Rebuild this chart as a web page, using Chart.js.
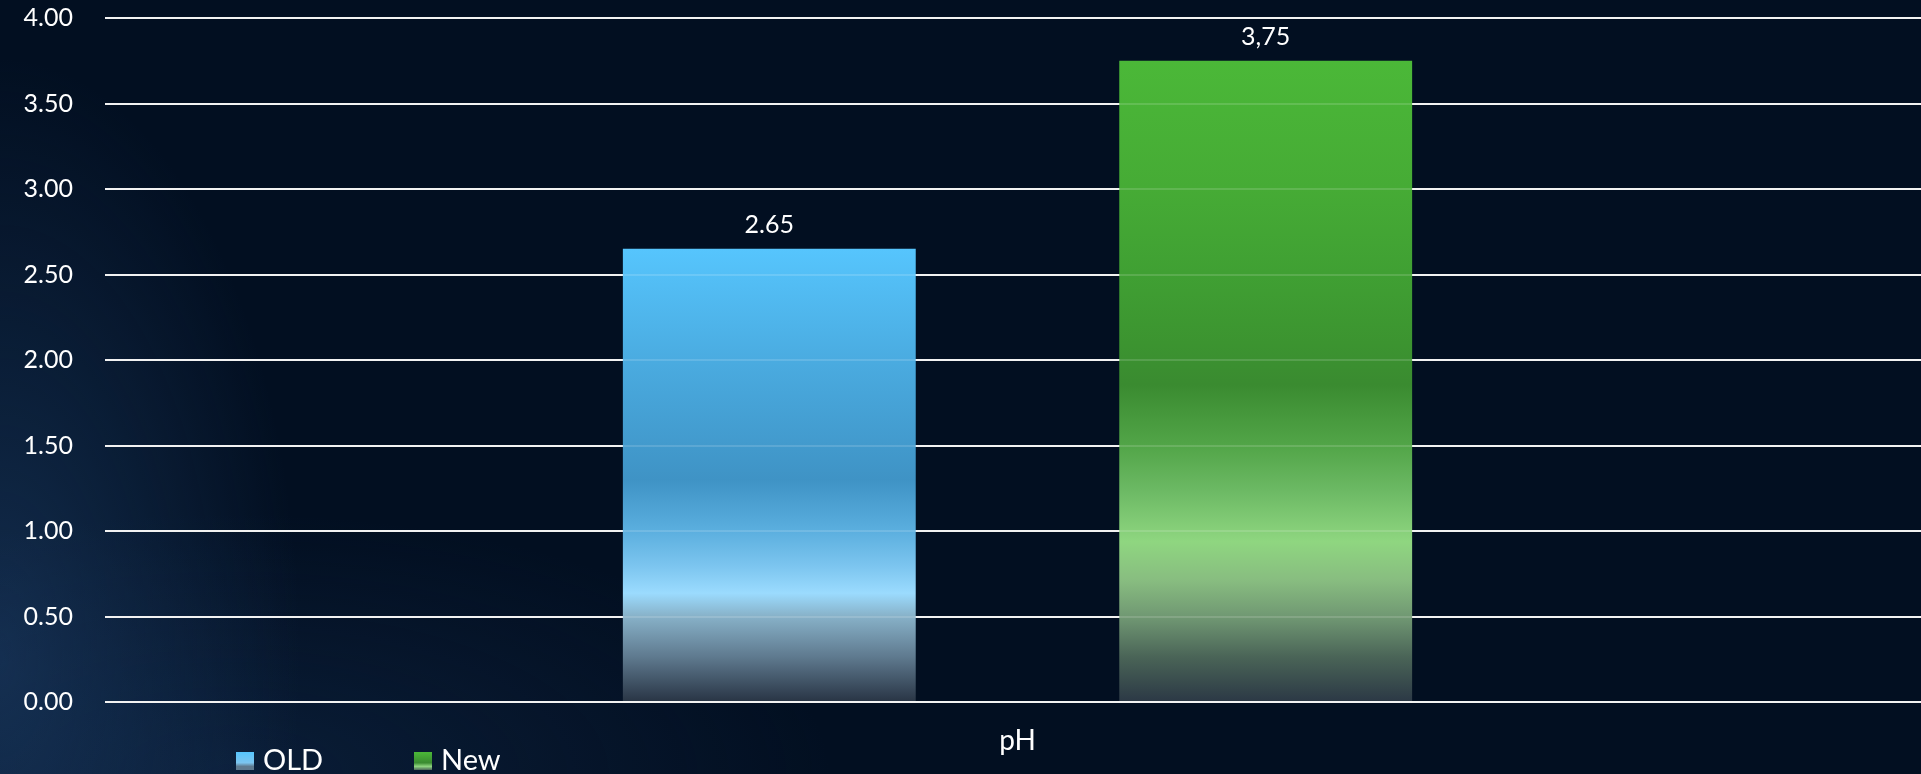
<!DOCTYPE html>
<html>
<head>
<meta charset="utf-8">
<title>pH</title>
<script src="https://cdn.jsdelivr.net/npm/chart.js@4.4.1/dist/chart.umd.min.js"></script>
<style>
  html, body {
    margin: 0;
    padding: 0;
    width: 1921px;
    height: 774px;
    overflow: hidden;
  }
  body {
    background:
      radial-gradient(ellipse 300px 600px at 0% 85%, rgba(30, 64, 106, 0.6), rgba(30, 64, 106, 0) 100%),
      radial-gradient(ellipse 600px 260px at 12% 100%, rgba(20, 46, 82, 0.45), rgba(20, 46, 82, 0) 100%),
      #020f21;
  }
  #wrap {
    position: absolute;
    left: 0;
    top: 0;
    width: 1930px;
    height: 774px;
  }
  canvas { display: block; }
</style>
</head>
<body>
<div id="wrap"><canvas id="chart" width="1930" height="774"></canvas></div>
<script>
// Chart data
const categories = ['pH'];
const seriesNames = ['OLD', 'New'];
const oldValues = [2.65];
const newValues = [3.75];
const oldValueLabels = ['2.65'];
const newValueLabels = ['3,75'];
const yMin = 0;
const yMax = 4;
const yStep = 0.5;

const FONT = 'Lato, "Open Sans", "DejaVu Sans", sans-serif';

// Vertical colour ramps for the bars (offset from bar top to base)
const oldStops = [
  [0.00, '#56c5fd'], [0.25, '#4aabe0'], [0.51, '#3f93c5'], [0.62, '#5aaede'],
  [0.70, '#7cc5ef'], [0.76, '#9bdbfe'], [0.81, '#88b2c9'], [0.90, '#5f7a8f'],
  [1.00, '#283444']
];
const newStops = [
  [0.00, '#4bb838'], [0.20, '#46ab35'], [0.33, '#40a033'], [0.44, '#3c9430'],
  [0.505, '#3a8b30'], [0.60, '#52a548'], [0.67, '#6cb964'], [0.75, '#8fd680'],
  [0.81, '#88bd80'], [0.87, '#6f9672'], [0.93, '#4a6457'], [1.00, '#2b3845']
];

function barFill(stops) {
  return function (ctx) {
    const chart = ctx.chart;
    const y = chart.scales && chart.scales.y;
    if (ctx.type !== 'data' || !y) return stops[0][1];
    const top = y.getPixelForValue(ctx.raw);
    const base = y.getPixelForValue(0);
    if (!isFinite(top) || !isFinite(base) || base <= top) return stops[0][1];
    const g = chart.ctx.createLinearGradient(0, top, 0, base);
    stops.forEach(s => g.addColorStop(s[0], s[1]));
    return g;
  };
}

// Faint grid lines showing through the bars
const gridOverlay = {
  id: 'gridOverlay',
  afterDatasetsDraw(chart) {
    const { ctx, chartArea, scales } = chart;
    ctx.save();
    ctx.strokeStyle = 'rgba(255,255,255,0.14)';
    ctx.lineWidth = 2;
    scales.y.ticks.forEach(t => {
      const py = Math.round(scales.y.getPixelForValue(t.value));
      ctx.beginPath();
      ctx.moveTo(chartArea.left, py);
      ctx.lineTo(chartArea.right, py);
      ctx.stroke();
    });
    ctx.restore();
  }
};

// Value labels above each bar
const valueLabels = {
  id: 'valueLabels',
  afterDatasetsDraw(chart) {
    const { ctx } = chart;
    ctx.save();
    ctx.font = '25px ' + FONT;
    ctx.fillStyle = '#ffffff';
    ctx.textAlign = 'center';
    ctx.textBaseline = 'alphabetic';
    chart.data.datasets.forEach((ds, i) => {
      const meta = chart.getDatasetMeta(i);
      meta.data.forEach((el, j) => {
        ctx.fillText(ds.valueLabels[j], el.x, el.y - 16);
      });
    });
    ctx.restore();
  }
};

// Legend in the lower-left corner
const cornerLegend = {
  id: 'cornerLegend',
  afterDraw(chart) {
    const { ctx } = chart;
    const items = [
      { x: 236, stops: oldStops },
      { x: 414, stops: newStops }
    ];
    ctx.save();
    ctx.font = '29px ' + FONT;
    ctx.textBaseline = 'alphabetic';
    ctx.textAlign = 'left';
    chart.data.datasets.forEach((ds, i) => {
      const it = items[i];
      const bx = it.x, by = 752, bs = 18;
      const g = ctx.createLinearGradient(0, by, 0, by + bs);
      g.addColorStop(0, it.stops[0][1]);
      g.addColorStop(0.6, it.stops[4][1]);
      g.addColorStop(0.8, it.stops[7][1]);
      g.addColorStop(1, it.stops[it.stops.length - 2][1]);
      ctx.fillStyle = g;
      ctx.fillRect(bx, by, bs, bs);
      ctx.fillStyle = '#ffffff';
      ctx.fillText(ds.label, bx + 27, 770);
    });
    ctx.restore();
  }
};

new Chart(document.getElementById('chart'), {
  type: 'bar',
  data: {
    labels: categories,
    datasets: [
      {
        label: seriesNames[0],
        data: oldValues,
        valueLabels: oldValueLabels,
        backgroundColor: barFill(oldStops),
        borderWidth: 0,
        categoryPercentage: 0.544,
        barPercentage: 0.59
      },
      {
        label: seriesNames[1],
        data: newValues,
        valueLabels: newValueLabels,
        backgroundColor: barFill(newStops),
        borderWidth: 0,
        categoryPercentage: 0.544,
        barPercentage: 0.59
      }
    ]
  },
  options: {
    responsive: false,
    devicePixelRatio: 1,
    animation: false,
    layout: { padding: { top: 18, left: 0, right: 0, bottom: 0 } },
    plugins: {
      legend: { display: false },
      tooltip: { enabled: false }
    },
    scales: {
      x: {
        grid: { display: false, drawTicks: false },
        border: { display: false },
        ticks: {
          color: '#ffffff',
          font: { family: FONT, size: 28 },
          padding: 22
        },
        afterFit(scale) { scale.height = 72; }
      },
      y: {
        min: yMin,
        max: yMax,
        grid: {
          color: '#f0f0f0',
          lineWidth: 2,
          drawTicks: false
        },
        border: { display: false },
        ticks: {
          stepSize: yStep,
          color: '#ffffff',
          font: { family: FONT, size: 25 },
          padding: 32,
          callback: v => Number(v).toFixed(2)
        },
        afterFit(scale) {
          scale.width = 105;
          scale.paddingTop = 0;
          scale.paddingBottom = 0;
        }
      }
    }
  },
  plugins: [gridOverlay, valueLabels, cornerLegend]
});
</script>
</body>
</html>
